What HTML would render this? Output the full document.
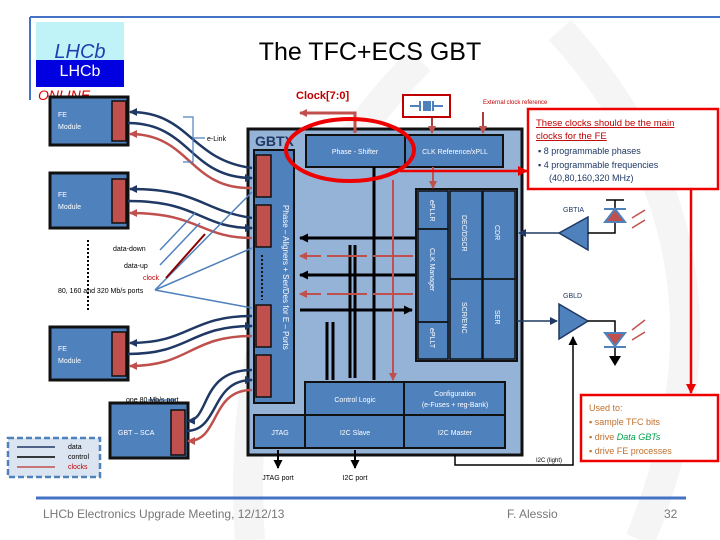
<!DOCTYPE html>
<html><head><meta charset="utf-8"><style>
body{margin:0;width:720px;height:540px;background:#fff;overflow:hidden}
svg{display:block}
text{font-family:"Liberation Sans",sans-serif}
</style></head><body>
<svg width="720" height="540" viewBox="0 0 720 540" xmlns="http://www.w3.org/2000/svg">
<defs>
<marker id="ab" markerUnits="userSpaceOnUse" markerWidth="8" markerHeight="8" refX="7" refY="4" orient="auto"><path d="M0,0L8,4L0,8z" fill="#1f3864"/></marker>
<marker id="ar" markerUnits="userSpaceOnUse" markerWidth="8" markerHeight="8" refX="7" refY="4" orient="auto"><path d="M0,0L8,4L0,8z" fill="#c0504d"/></marker>
<marker id="ak" markerUnits="userSpaceOnUse" markerWidth="9" markerHeight="9" refX="8" refY="4.5" orient="auto"><path d="M0,0L9,4.5L0,9z" fill="#000"/></marker>
<marker id="aR" markerUnits="userSpaceOnUse" markerWidth="10" markerHeight="10" refX="9" refY="5" orient="auto"><path d="M0,0L10,5L0,10z" fill="#e00"/></marker>
</defs>
<path d="M250,540 Q230,250 420,60" stroke="#f5f5f5" stroke-width="30" fill="none"/>
<path d="M640,540 Q760,250 560,30" stroke="#f5f5f5" stroke-width="30" fill="none"/>
<line x1="30" y1="17" x2="720" y2="17" stroke="#4472c4" stroke-width="2"/>
<line x1="30" y1="17" x2="30" y2="100" stroke="#4472c4" stroke-width="2"/>
<rect x="36" y="22" width="88" height="38" fill="#bff3f7"/>
<rect x="36" y="60" width="88" height="27" fill="#0000e0"/>
<text x="80" y="58" font-family="Liberation Serif" font-style="italic" font-size="20" fill="#1f3fb0" text-anchor="middle">LHCb</text>
<text x="80" y="76" font-family="Liberation Serif" font-size="16" fill="#fff" text-anchor="middle">LHCb</text>
<text x="38" y="100" font-size="14" fill="#d00" font-style="italic">ONLINE</text>
<text x="370" y="60" font-size="25" text-anchor="middle" fill="#000">The TFC+ECS GBT</text>

<rect x="248" y="129" width="274" height="326" fill="#95b3d7" stroke="#111" stroke-width="3"/>
<text x="255" y="146" font-size="14" font-weight="bold" fill="#1f3864">GBTX</text>
<rect x="254" y="150" width="40" height="253" fill="#4f81bd" stroke="#111" stroke-width="2"/>
<g fill="#c0504d" stroke="#111" stroke-width="1.5">
<rect x="256" y="155" width="15" height="42"/><rect x="256" y="205" width="15" height="42"/>
<rect x="256" y="305" width="15" height="42"/><rect x="256" y="355" width="15" height="42"/>
</g>
<line x1="262" y1="255" x2="262" y2="300" stroke="#111" stroke-width="2" stroke-dasharray="2,2"/>
<text transform="translate(283,205) rotate(90)" font-size="8" fill="#fff">Phase – Aligners + Ser/Des for E – Ports</text>
<rect x="306" y="135" width="99" height="32" fill="#4f81bd" stroke="#111" stroke-width="2"/>
<rect x="405" y="135" width="98" height="32" fill="#4f81bd" stroke="#111" stroke-width="2"/>
<text x="355" y="154" font-size="7" fill="#fff" text-anchor="middle">Phase - Shifter</text>
<text x="455" y="154" font-size="7" fill="#fff" text-anchor="middle">CLK Reference/xPLL</text>
<rect x="416" y="189" width="101" height="172" fill="#4f81bd" stroke="#111" stroke-width="2"/>
<g stroke="#111" stroke-width="1.5" fill="none">
<rect x="418" y="191" width="30" height="38"/><rect x="418" y="229" width="30" height="93"/><rect x="418" y="322" width="30" height="37"/>
<rect x="450" y="191" width="32" height="88"/><rect x="450" y="279" width="32" height="80"/>
<rect x="483" y="191" width="32" height="88"/><rect x="483" y="279" width="32" height="80"/>
</g>
<g font-size="7" fill="#fff">
<text transform="translate(430,200) rotate(90)">ePLLR</text>
<text transform="translate(430,248) rotate(90)">CLK Manager</text>
<text transform="translate(430,328) rotate(90)">ePLLT</text>
<text transform="translate(462,215) rotate(90)">DEC/DSCR</text>
<text transform="translate(462,302) rotate(90)">SCR/ENC</text>
<text transform="translate(495,225) rotate(90)">CDR</text>
<text transform="translate(495,310) rotate(90)">SER</text>
</g>
<g fill="#4f81bd" stroke="#111" stroke-width="2">
<rect x="305" y="382" width="99" height="33"/><rect x="404" y="382" width="101" height="33"/>
<rect x="254" y="415" width="51" height="33"/><rect x="305" y="415" width="99" height="33"/><rect x="404" y="415" width="101" height="33"/>
</g>
<g font-size="7" fill="#fff" text-anchor="middle">
<text x="355" y="402">Control Logic</text>
<text x="455" y="396">Configuration</text><text x="455" y="407">(e-Fuses + reg-Bank)</text>
<text x="280" y="435">JTAG</text><text x="355" y="435">I2C Slave</text><text x="455" y="435">I2C Master</text>
</g>
<g stroke="#000" stroke-width="3" fill="none">
<line x1="374" y1="167" x2="374" y2="380"/>
<line x1="415" y1="238" x2="300" y2="238" marker-end="url(#ak)"/>
<line x1="415" y1="275" x2="300" y2="275" marker-end="url(#ak)"/>
<line x1="300" y1="310" x2="412" y2="310" marker-end="url(#ak)"/>
<line x1="350" y1="245" x2="350" y2="378"/><line x1="355" y1="245" x2="355" y2="378"/>
<line x1="327" y1="380" x2="327" y2="322"/><line x1="333" y1="380" x2="333" y2="322"/>
</g>
<g stroke="#c0504d" stroke-width="2" fill="none">
<line x1="413" y1="256" x2="300" y2="256" stroke-dasharray="40,6" marker-end="url(#ar)"/>
<line x1="413" y1="294" x2="300" y2="294" stroke-dasharray="40,6" marker-end="url(#ar)"/>
<line x1="393" y1="180" x2="393" y2="380" marker-end="url(#ar)"/>
<line x1="433" y1="167" x2="433" y2="188" marker-end="url(#ar)"/>
</g>
<g fill="#4f81bd" stroke="#111" stroke-width="3">
<rect x="50" y="97" width="78" height="48"/><rect x="50" y="173" width="78" height="55"/><rect x="50" y="327" width="78" height="53"/><rect x="110" y="403" width="78" height="55"/>
</g>
<g fill="#c0504d" stroke="#111" stroke-width="1.5">
<rect x="112" y="101" width="14" height="40"/><rect x="112" y="179" width="14" height="44"/><rect x="112" y="332" width="14" height="44"/><rect x="171" y="410" width="14" height="45"/>
</g>
<g font-size="7" fill="#fff">
<text x="58" y="117">FE</text><text x="58" y="129">Module</text>
<text x="58" y="197">FE</text><text x="58" y="209">Module</text>
<text x="58" y="351">FE</text><text x="58" y="363">Module</text>
<text x="118" y="435">GBT – SCA</text>
</g>
<line x1="88" y1="240" x2="88" y2="310" stroke="#000" stroke-width="2" stroke-dasharray="2,2"/>
<g fill="none" stroke-width="2.5">
<path d="M252,168 C190,160 190,112 130,112" stroke="#1f3864" marker-end="url(#ab)"/>
<path d="M128,123 C190,123 190,178 252,178" stroke="#1f3864" marker-end="url(#ab)"/>
<path d="M252,188 C190,190 190,134 130,134" stroke="#c0504d" marker-end="url(#ar)"/>
<path d="M252,218 C200,210 200,189 130,189" stroke="#1f3864" marker-end="url(#ab)"/>
<path d="M128,201 C200,201 200,228 252,228" stroke="#1f3864" marker-end="url(#ab)"/>
<path d="M252,238 C200,238 200,213 130,213" stroke="#c0504d" marker-end="url(#ar)"/>
<path d="M252,316 C190,316 190,343 130,343" stroke="#1f3864" marker-end="url(#ab)"/>
<path d="M128,354 C190,354 190,326 252,326" stroke="#1f3864" marker-end="url(#ab)"/>
<path d="M252,336 C190,336 190,366 130,366" stroke="#c0504d" marker-end="url(#ar)"/>
<path d="M252,370 C200,370 210,420 188,421" stroke="#1f3864" marker-end="url(#ab)"/>
<path d="M186,431 C220,431 210,380 252,380" stroke="#1f3864" marker-end="url(#ab)"/>
<path d="M252,390 C210,390 220,441 188,441" stroke="#c0504d" marker-end="url(#ar)"/>
</g>
<path d="M183,117 H193 V162 H183 M193,138 H205" stroke="#4f81bd" fill="none" stroke-width="1.2"/>
<text x="207" y="141" font-size="7">e-Link</text>
<g stroke="#4f81bd" stroke-width="1.5">
<line x1="160" y1="250" x2="195" y2="213"/><line x1="160" y1="265" x2="200" y2="223"/>
<line x1="155" y1="290" x2="252" y2="192"/><line x1="155" y1="290" x2="252" y2="248"/><line x1="155" y1="290" x2="252" y2="308"/>
<line x1="148" y1="400" x2="176" y2="400"/>
</g>
<line x1="166" y1="278" x2="205" y2="234" stroke="#8b0000" stroke-width="2"/>
<g font-size="7"><text x="113" y="251">data-down</text><text x="124" y="268">data-up</text><text x="143" y="280" fill="#c00000">clock</text><text x="58" y="293">80, 160 and 320 Mb/s ports</text><text x="126" y="402">one 80 Mb/s port</text></g>
<rect x="8" y="438" width="92" height="39" fill="#dbe5f1" stroke="#4f81bd" stroke-width="2.5" stroke-dasharray="6,3"/>
<line x1="17" y1="447" x2="55" y2="447" stroke="#1f3864" stroke-width="1.5"/>
<line x1="17" y1="457" x2="55" y2="457" stroke="#000" stroke-width="1.5"/>
<line x1="17" y1="467" x2="55" y2="467" stroke="#c0504d" stroke-width="1.5"/>
<g font-size="7"><text x="68" y="449">data</text><text x="68" y="459">control</text><text x="68" y="469" fill="#c00000">clocks</text></g>
<path d="M355,133 V113 H300" stroke="#c0504d" stroke-width="3" fill="none" marker-end="url(#ar)"/>
<text x="296" y="99" font-size="11" font-weight="bold" fill="#c00000">Clock[7:0]</text>
<rect x="403" y="95" width="47" height="22" fill="none" stroke="#c00000" stroke-width="2"/>
<path d="M410,106 H420 M420,101 V111 M433,101 V111 M433,106 H443" stroke="#4f81bd" stroke-width="2"/>
<rect x="423" y="101" width="8" height="10" fill="#4f81bd"/>
<line x1="432" y1="117" x2="432" y2="133" stroke="#8b0000" stroke-width="1.5" marker-end="url(#ar)"/>
<line x1="483" y1="112" x2="483" y2="133" stroke="#8b0000" stroke-width="1.5" marker-end="url(#ar)"/>
<text x="483" y="104" font-size="6" fill="#c00000">External clock reference</text>
<ellipse cx="350" cy="150" rx="64" ry="31" fill="none" stroke="#e00" stroke-width="4"/>
<line x1="400" y1="171" x2="527" y2="171" stroke="#e00" stroke-width="2.5" marker-end="url(#aR)"/>
<rect x="528" y="109" width="190" height="80" fill="#fff" stroke="#e00" stroke-width="2.5"/>
<text x="536" y="126" font-size="9.5" fill="#c00000" text-decoration="underline">These clocks should be the main</text>
<text x="536" y="139" font-size="9.5" fill="#c00000" text-decoration="underline">clocks for the FE</text>
<g font-size="9" fill="#1f3864"><text x="538" y="154">▪   8 programmable phases</text><text x="538" y="168">▪   4 programmable frequencies</text><text x="549" y="181">(40,80,160,320 MHz)</text></g>
<line x1="691" y1="189" x2="691" y2="393" stroke="#e00" stroke-width="2.5" marker-end="url(#aR)"/>
<rect x="581" y="395" width="137" height="66" fill="#fff" stroke="#e00" stroke-width="2.5"/>
<g font-size="9" fill="#c0702d"><text x="589" y="411">Used to:</text><text x="589" y="425">▪   sample TFC bits</text><text x="589" y="440">▪   drive <tspan fill="#00a050" font-style="italic">Data GBTs</tspan></text><text x="589" y="454">▪   drive FE processes</text></g>
<text x="563" y="212" font-size="7" fill="#1f3864">GBTIA</text>
<polygon points="559,233 588,217 588,250" fill="#4f81bd" stroke="#1f3864" stroke-width="1.5"/>
<line x1="559" y1="233" x2="519" y2="233" stroke="#1f3864" stroke-width="1.5" marker-end="url(#ab)"/>
<path d="M588,233 H615 V200 M606,200 H624" stroke="#000" stroke-width="1.5" fill="none"/>
<polygon points="605,222 625,222 615,209" fill="#c0504d" stroke="#4f81bd" stroke-width="2"/>
<line x1="604" y1="209" x2="626" y2="209" stroke="#4f81bd" stroke-width="2"/>
<path d="M632,218 L645,210 M632,228 L645,220" stroke="#c0504d" stroke-width="1.5"/>
<text x="563" y="298" font-size="7" fill="#1f3864">GBLD</text>
<polygon points="559,304 559,339 588,321" fill="#4f81bd" stroke="#1f3864" stroke-width="1.5"/>
<line x1="517" y1="321" x2="557" y2="321" stroke="#1f3864" stroke-width="1.5" marker-end="url(#ab)"/>
<path d="M588,321 H615 V358" stroke="#000" stroke-width="1.5" fill="none"/>
<polygon points="605,333 625,333 615,346" fill="#c0504d" stroke="#4f81bd" stroke-width="2"/>
<line x1="604" y1="347" x2="626" y2="347" stroke="#4f81bd" stroke-width="2"/>
<polygon points="609,356 621,356 615,366" fill="#000"/>
<path d="M632,330 L645,320 M632,340 L645,332" stroke="#c0504d" stroke-width="1.5"/>
<path d="M455,455 V465 H573 V337" stroke="#000" stroke-width="1.5" fill="none" marker-end="url(#ak)"/>
<text x="536" y="462" font-size="6">I2C (light)</text>
<line x1="278" y1="450" x2="278" y2="468" stroke="#000" stroke-width="2" marker-end="url(#ak)"/>
<line x1="355" y1="450" x2="355" y2="468" stroke="#000" stroke-width="2" marker-end="url(#ak)"/>
<text x="278" y="480" font-size="7" text-anchor="middle">JTAG port</text>
<text x="355" y="480" font-size="7" text-anchor="middle">I2C port</text>
<line x1="36" y1="498" x2="686" y2="498" stroke="#4472c4" stroke-width="3"/>
<text x="43" y="518" font-size="12" fill="#777">LHCb Electronics Upgrade Meeting, 12/12/13</text>
<text x="507" y="518" font-size="12" fill="#777">F. Alessio</text>
<text x="664" y="518" font-size="12" fill="#777">32</text>
</svg>
</body></html>
